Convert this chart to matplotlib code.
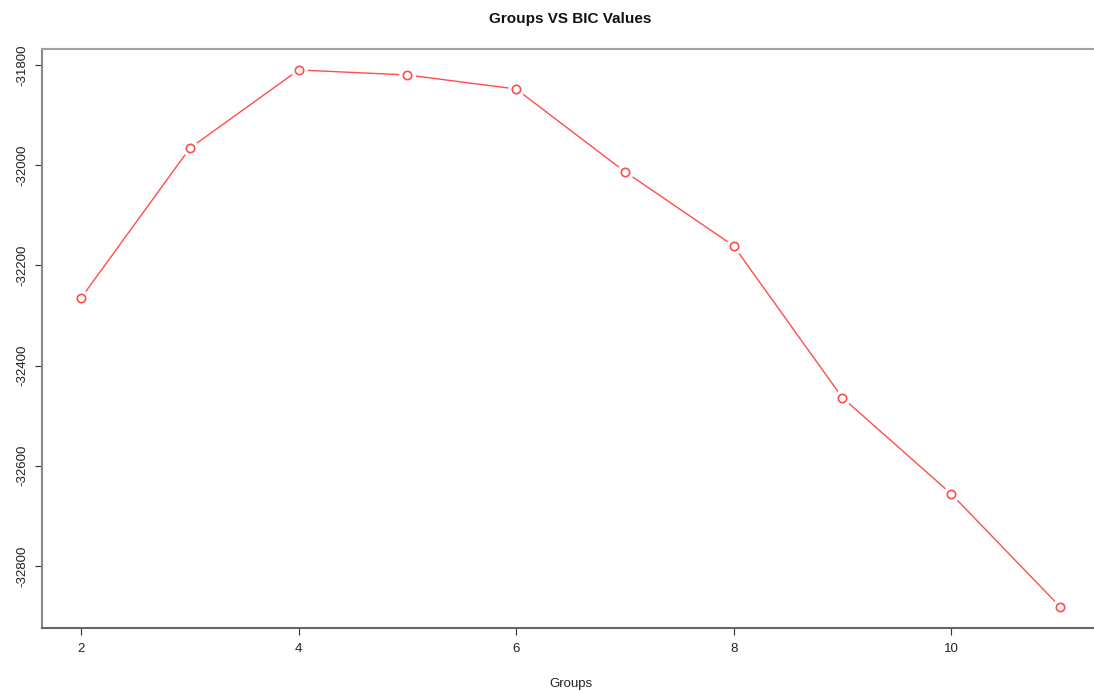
import matplotlib
matplotlib.use("Agg")
import matplotlib.pyplot as plt

groups = [2, 3, 4, 5, 6, 7, 8, 9, 10, 11]
bic = [-32265, -31966, -31810, -31820, -31848, -32013, -32161, -32464, -32656, -32881]
xticks = [2, 4, 6, 8, 10]
yticks = [-31800, -32000, -32200, -32400, -32600, -32800]

plt.rcParams['font.family'] = ['Liberation Sans', 'DejaVu Sans']

fig = plt.figure(figsize=(10.94, 6.91), dpi=100)
W, H = 1094, 691
left, right, top, bottom = 42, 1099, 48.5, 628
ax = fig.add_axes([left / W, 1 - bottom / H, (right - left) / W, (bottom - top) / H])

col = '#ff4d4d'
ax.plot(groups, bic, color=col, lw=1.0, zorder=2)
ax.plot(groups, bic, linestyle='none', marker='o', markersize=11, markerfacecolor='white',
        markeredgecolor='white', zorder=3)
ax.plot(groups, bic, linestyle='none', marker='o', markersize=6, markerfacecolor='white',
        markeredgecolor=col, markeredgewidth=1.2, zorder=4)

xmin, xmax = min(groups), max(groups)
ymin, ymax = min(bic), max(bic)
dx = (xmax - xmin) * 0.04
dy = (ymax - ymin) * 0.04
ax.set_xlim(xmin - dx, xmax + dx)
ax.set_ylim(ymin - dy, ymax + dy)

ax.set_xticks(xticks)
ax.set_xticklabels([str(t) for t in xticks])
ax.set_yticks(yticks)
ax.set_yticklabels([str(t) for t in yticks], rotation=90, va='center')
ax.tick_params(axis='both', direction='out', length=5, width=0.8, color='#333333',
               labelsize=9.5, labelcolor='#222222', pad=6)
ax.tick_params(axis='y', pad=5)

ax.spines['right'].set_visible(False)
ax.spines['left'].set_color('#888888')
ax.spines['top'].set_color('#a0a0a0')
ax.spines['bottom'].set_color('#666666')
for s in ['left', 'top', 'bottom']:
    ax.spines[s].set_linewidth(1.5)

ax.set_title('Groups VS BIC Values', fontsize=11, fontweight='bold', pad=18, color='#111111')
fig.text((left + right) / 2 / W, 1 - 684 / H, 'Groups', fontsize=9.5, color='#222222',
         ha='center', va='center')

fig.savefig('out.png', dpi=100)
